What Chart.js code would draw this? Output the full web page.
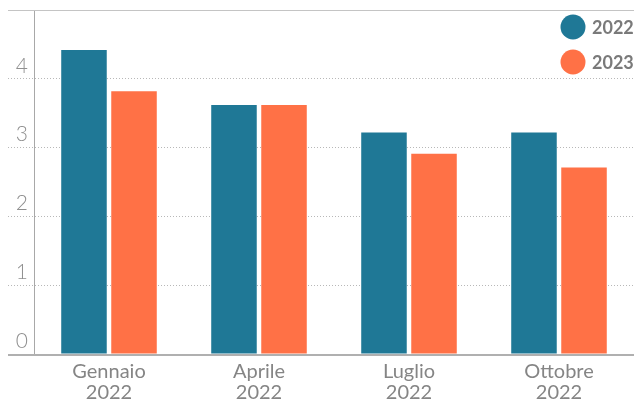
<!DOCTYPE html>
<html>
<head>
<meta charset="utf-8">
<script src="https://cdn.jsdelivr.net/npm/chart.js@4.4.0/dist/chart.umd.min.js"></script>
<style>
  html, body { margin: 0; padding: 0; background: #fff; }
  canvas { display: block; }
</style>
</head>
<body>
<canvas id="bar_chart" width="634" height="403"></canvas>
<script>
// Data
var categories = [['Gennaio', '2022'], ['Aprile', '2022'], ['Luglio', '2022'], ['Ottobre', '2022']];
var seriesNames = ['2022', '2023'];
var values2022 = [4.42, 3.62, 3.22, 3.22];
var values2023 = [3.82, 3.62, 2.91, 2.71];
var yTicks = [0, 1, 2, 3, 4, 5];

var colors = ['#1f7896', '#ff7146'];

// Solid lines at the bottom and top of the value axis, running under the tick labels
var frameLines = {
  id: 'frameLines',
  beforeDatasetsDraw: function(chart) {
    var ctx = chart.ctx;
    var y = chart.scales.y;
    ctx.save();
    ctx.lineWidth = 1;
    ctx.strokeStyle = '#c4c4c4';
    ctx.beginPath();
    ctx.moveTo(8, Math.round(y.getPixelForValue(yTicks[yTicks.length - 1])) + 0.5);
    ctx.lineTo(chart.width, Math.round(y.getPixelForValue(yTicks[yTicks.length - 1])) + 0.5);
    ctx.stroke();
    ctx.strokeStyle = '#b0b0b0';
    ctx.lineWidth = 2;
    ctx.beginPath();
    ctx.moveTo(8, Math.round(y.getPixelForValue(0)) + 1);
    ctx.lineTo(chart.width, Math.round(y.getPixelForValue(0)) + 1);
    ctx.stroke();
    ctx.restore();
  }
};

// Legend with round markers in the top right corner
var circleLegend = {
  id: 'circleLegend',
  afterDraw: function(chart) {
    var ctx = chart.ctx;
    ctx.save();
    chart.data.datasets.forEach(function(ds, i) {
      var cy = 27 + i * 35;
      ctx.fillStyle = ds.backgroundColor;
      ctx.beginPath();
      ctx.arc(573, cy, 12.5, 0, Math.PI * 2);
      ctx.fill();
      ctx.fillStyle = '#7a7a7a';
      ctx.font = 'bold 18px Lato';
      ctx.textBaseline = 'middle';
      ctx.textAlign = 'left';
      ctx.fillText(ds.label, 592, cy + 1);
    });
    ctx.restore();
  }
};

var canvas = document.getElementById('bar_chart');

var data = {
  labels: categories,
  datasets: [{
    label: seriesNames[0],
    data: values2022,
    backgroundColor: colors[0]
  }, {
    label: seriesNames[1],
    data: values2023,
    backgroundColor: colors[1]
  }]
};

var options = {
  responsive: false,
  maintainAspectRatio: false,
  animation: false,
  layout: { padding: { left: 8, top: 10, right: 0, bottom: 0 } },
  datasets: {
    bar: { categoryPercentage: 0.667, barPercentage: 0.91 }
  },
  plugins: {
    legend: { display: false },
    tooltip: { enabled: false }
  },
  scales: {
    x: {
      afterFit: function(scale) { scale.height = 49; },
      grid: { display: false },
      border: { display: false },
      ticks: {
        color: '#858585',
        padding: -1,
        font: { family: 'Lato', size: 20, lineHeight: 1.05 },
        maxRotation: 0
      }
    },
    y: {
      min: 0,
      max: 5,
      afterFit: function(scale) { scale.width = 26; },
      afterBuildTicks: function(scale) {
        scale.ticks = yTicks.map(function(v) { return { value: v }; });
      },
      grid: {
        color: '#b8b8b8',
        lineWidth: 1,
        tickLength: 26,
        tickBorderDash: [1, 2]
      },
      border: { display: true, color: '#a8a8a8', width: 1, dash: [1, 2] },
      ticks: {
        color: '#8f8f8f',
        padding: -20,
        labelOffset: -13,
        font: { family: 'Lato', size: 21, weight: '300' },
        callback: function(v) { return v === yTicks[yTicks.length - 1] ? '' : v; }
      }
    }
  }
};

var barChart = new Chart(canvas, {
  type: 'bar',
  data: data,
  options: options,
  plugins: [frameLines, circleLegend]
});
</script>
</body>
</html>
